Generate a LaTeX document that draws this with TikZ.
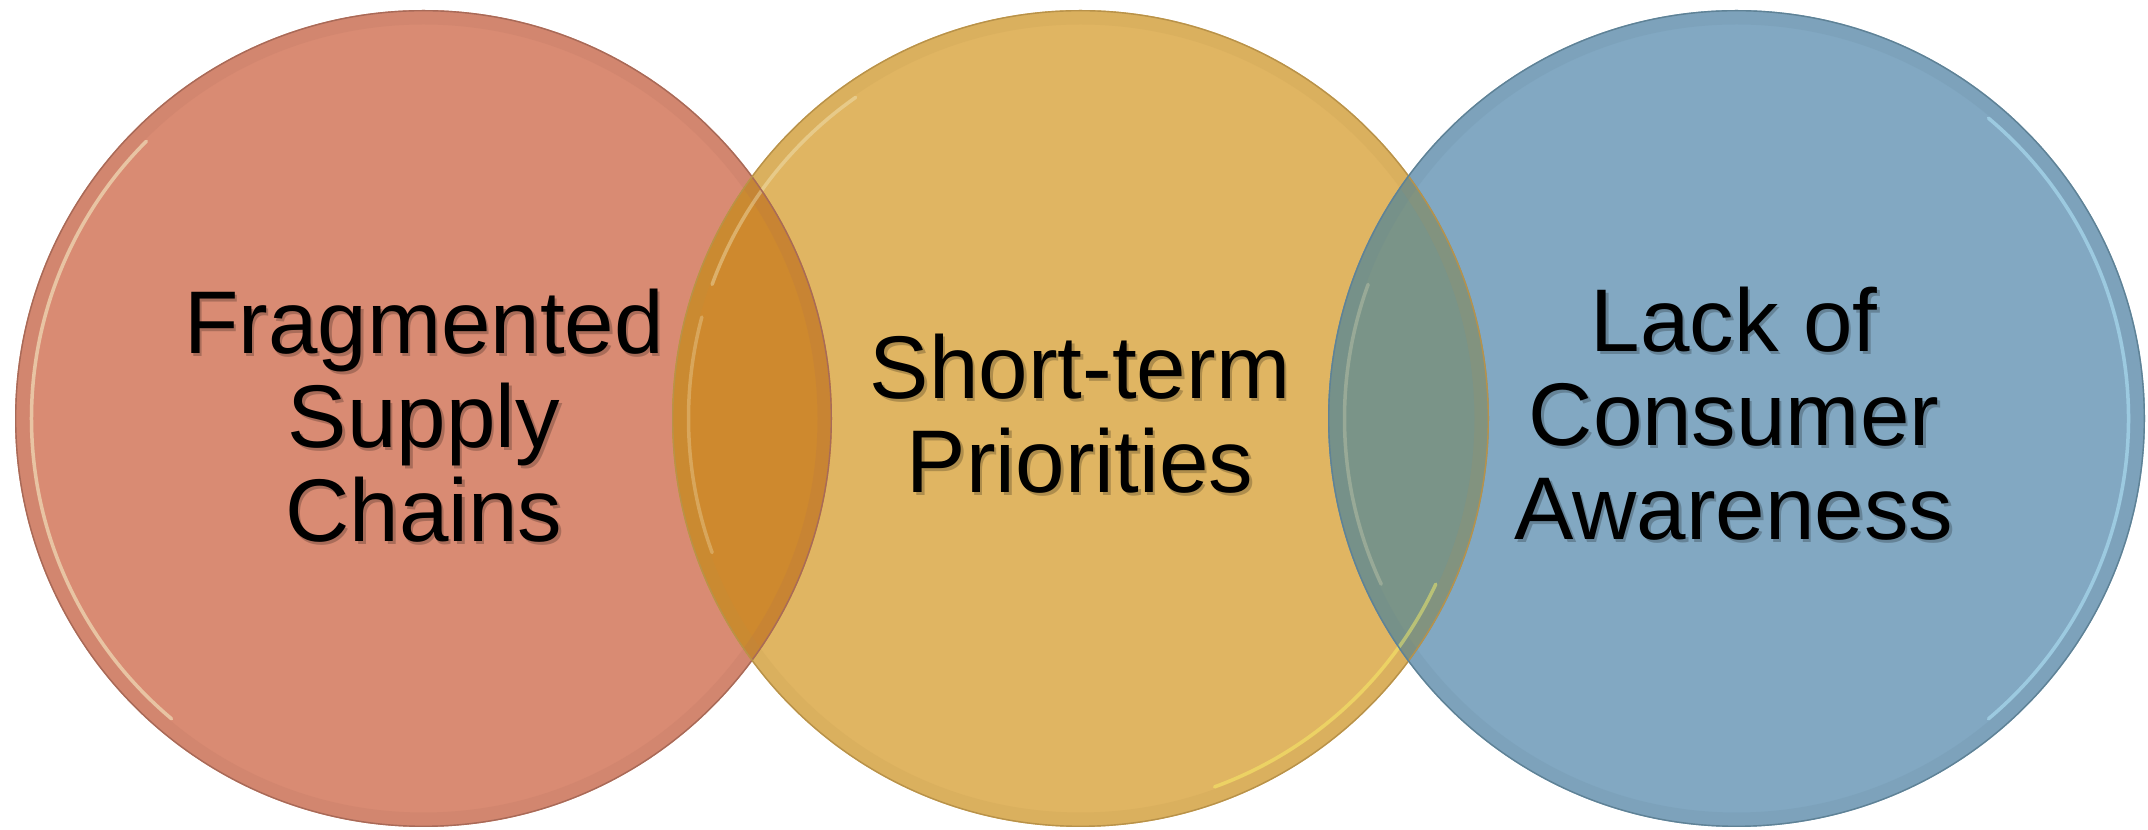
\documentclass[tikz,border=0pt]{standalone}
\usepackage{fontspec}
\setmainfont{Liberation Sans}
\definecolor{redfill}{HTML}{D98B73}
\definecolor{yelfill}{HTML}{E0B562}
\definecolor{blufill}{HTML}{82A8C2}
\definecolor{lensA}{HTML}{CE892E}
\definecolor{lensB}{HTML}{7A9488}
\definecolor{redrim}{HTML}{A86A58}
\definecolor{yelrim}{HTML}{B8924A}
\definecolor{blurim}{HTML}{5F8296}
\definecolor{cream}{HTML}{F2EBC4}
\begin{document}
\begin{tikzpicture}[x=1pt,y=1pt,
  lbl/.style={font=\fontsize{89}{94}\selectfont, align=center, text=black, inner sep=0pt, anchor=base},
  lblshadow/.style={lbl, text=black, text opacity=0.22},
  band/.style={line width=14pt, opacity=0.14},
  edge/.style={line width=1.4pt},
  glint/.style={draw=cream, line width=3.5pt, opacity=0.6, line cap=round}
  ]
\useasboundingbox (0,0) rectangle (2148,830);
\fill[white] (0,0) rectangle (2148,830);
\coordinate (cL) at (423.5,411.5);
\coordinate (cM) at (1080.5,411.5);
\coordinate (cR) at (1736.5,411.5);
% fills
\fill[redfill] (cL) circle (408.5);
\fill[yelfill] (cM) circle (408.5);
\fill[blufill] (cR) circle (408.5);
% lenses
\begin{scope}
  \clip (cL) circle (408.5);
  \fill[lensA] (cM) circle (408.5);
\end{scope}
\begin{scope}
  \clip (cR) circle (408.5);
  \fill[lensB] (cM) circle (408.5);
\end{scope}
% bevel bands
\draw[band, draw=redrim] (cL) circle (401);
\draw[band, draw=yelrim] (cM) circle (401);
\draw[band, draw=blurim] (cR) circle (401);
% glints
\draw[glint] (cL) ++(135:392) arc[start angle=135, end angle=230, radius=392];
\draw[glint, opacity=0.4] (cM) ++(125:392) arc[start angle=125, end angle=160, radius=392];
\draw[glint, opacity=0.3] (cM) ++(165:392) arc[start angle=165, end angle=200, radius=392];
\draw[glint, draw=yellow!50!cream, opacity=0.5] (cM) ++(290:392) arc[start angle=290, end angle=335, radius=392];
\draw[glint, draw=white!70!cyan, opacity=0.55] (cR) ++(-50:392) arc[start angle=-50, end angle=50, radius=392];
\draw[glint, opacity=0.25] (cR) ++(160:392) arc[start angle=160, end angle=205, radius=392];
% edges
\draw[edge, draw=redrim] (cL) circle (407.8);
\draw[edge, draw=yelrim] (cM) circle (407.8);
\draw[edge, draw=blurim] (cR) circle (407.8);
% labels
\node[lblshadow] at (426.5,285) {Fragmented\\Supply\\Chains};
\node[lbl] (tL) at (424,288) {Fragmented\\Supply\\Chains};
\node[lblshadow] at (1082.5,334) {Short-term\\Priorities};
\node[lbl] (tM) at (1080,337) {Short-term\\Priorities};
\node[lblshadow] at (1736.5,287) {Lack of\\Consumer\\Awareness};
\node[lbl] (tR) at (1734,290) {Lack of\\Consumer\\Awareness};
\end{tikzpicture}
\end{document}
